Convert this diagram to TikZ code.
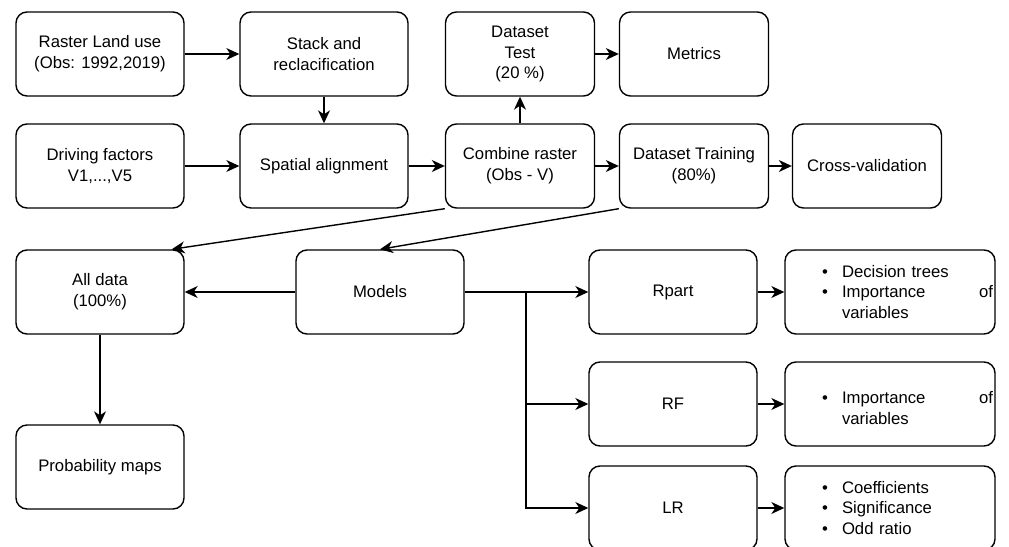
\documentclass[tikz,border=0pt]{standalone}
\usepackage{fontspec}
\setmainfont{Liberation Sans}
\usetikzlibrary{arrows.meta}
% bullet line for the result boxes
\newcommand\bul{\hspace*{37pt}\makebox[20pt][l]{\textbullet}}
\newcommand\cont{\hspace*{57pt}}
\begin{document}
\begin{tikzpicture}[x=1pt,y=-1pt,
  box/.style={draw=black, line width=1.4pt, rounded corners=11pt, align=center,
    inner sep=0pt, minimum height=84pt, font=\fontsize{16.7}{20.7}\selectfont},
  wide/.style={box, minimum width=168pt},
  narrow/.style={box, minimum width=149pt},
  listbox/.style={box, minimum width=210pt, text width=210pt, align=left},
  arr/.style={line width=1.4pt, -{Stealth[length=13pt,width=12pt,inset=4pt]}},
  plain/.style={line width=1.4pt}
]
\clip (0,0) rectangle (1009,546);

% first row
\node[wide]   (rlu)     at (100,54)   {Raster Land use\\(Obs: 1992,2019)};
\node[wide]   (stack)   at (324,54)   {Stack and\\reclacification};
\node[narrow] (test)    at (520,54)   {Dataset\\Test\\(20 \%)};
\node[narrow] (metrics) at (694,54)   {Metrics};

% second row
\node[wide]   (drive)   at (100,166)  {Driving factors\\V1,...,V5};
\node[wide]   (spatial) at (324,166)  {Spatial alignment};
\node[narrow] (combine) at (520,166)  {Combine raster\\(Obs - V)};
\node[narrow] (train)   at (694,166)  {Dataset Training\\(80\%)};
\node[narrow] (cv)      at (867,166)  {Cross-validation};

% models and outputs
\node[wide] (alldata) at (100,292) {All data\\(100\%)};
\node[wide] (models)  at (380,292) {Models};
\node[wide] (prob)    at (100,467) {Probability maps};

\node[wide] (rpart) at (673,292) {Rpart};
\node[wide] (rf)    at (673,404) {RF};
\node[wide] (lr)    at (673,508) {LR};

\node[listbox] (out1) at (890,292)
  {\bul Decision trees\\
   \bul\hbox to 151pt{Importance\hfill of}\\
   \cont variables};
\node[listbox] (out2) at (890,404)
  {\mbox{}\\
   \bul\hbox to 151pt{Importance\hfill of}\\
   \cont variables};
\node[listbox] (out3) at (890,508)
  {\bul Coefficients\\
   \bul Significance\\
   \bul Odd ratio};

% connectors
\draw[arr] (rlu) -- (stack);
\draw[arr] (stack) -- (spatial);
\draw[arr] (drive) -- (spatial);
\draw[arr] (spatial) -- (combine);
\draw[arr] (combine) -- (test);
\draw[arr] (test) -- (metrics);
\draw[arr] (combine) -- (train);
\draw[arr] (train) -- (cv);
\draw[arr] (combine.south west) -- ([xshift=-13pt]alldata.north east);
\draw[arr] (train.south west) -- (models.north);
\draw[arr] (models) -- (alldata);
\draw[arr] (alldata) -- (prob);

\coordinate (split) at (526,292);
\draw[plain] (models.east) -- (split);
\draw[arr] (split) -- (rpart.west);
\draw[arr] (split) |- (rf.west);
\draw[arr] (split) |- (lr.west);

\draw[arr] (rpart) -- (out1);
\draw[arr] (rf) -- (out2);
\draw[arr] (lr) -- (out3);
\end{tikzpicture}
\end{document}
